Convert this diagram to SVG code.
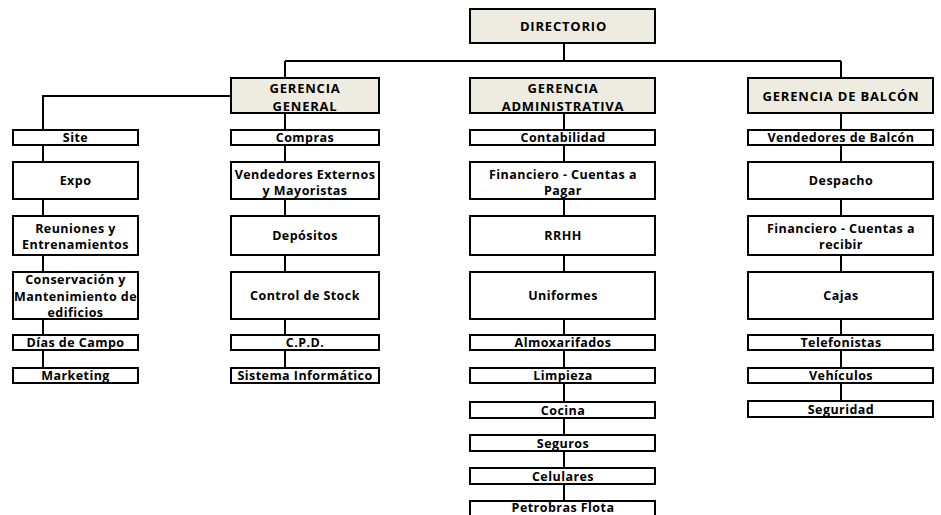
<svg xmlns="http://www.w3.org/2000/svg" width="941" height="515" viewBox="0 0 941 515">
<style>
.c{stroke:#000;stroke-width:2;fill:none}
.h rect{fill:#EEECE1;stroke:#000;stroke-width:2}
.n rect{fill:#fff;stroke:#000;stroke-width:2}
text{font-family:"Open Sans","Liberation Sans",Arial,sans-serif;font-weight:bold;font-size:12.5px;letter-spacing:0.45px;text-anchor:middle;fill:#000}
.h text{font-size:13px;letter-spacing:0.8px}
</style>
<rect width="941" height="515" fill="#fff"/>
<g id="connectors">
<path class="c" d="M564 43V61M285 61H841M285 61V78M841 61V78"/>
<path class="c" d="M231 96H43V368"/>
<path class="c" d="M285 113V368"/>
<path class="c" d="M564 113V501"/>
<path class="c" d="M841 113V401"/>
</g>
<g id="directorio" class="h"><rect x="470" y="9" width="185" height="34"/><text x="563.5" y="31">DIRECTORIO</text></g>
<g id="gerencia-general" class="h"><rect x="231" y="78" width="148" height="35"/><text x="305" y="92.5">GERENCIA</text><text x="305" y="110.5">GENERAL</text></g>
<g id="gerencia-administrativa" class="h"><rect x="470" y="78" width="185" height="35"/><text x="563" y="92.5">GERENCIA</text><text x="563" y="110.5">ADMINISTRATIVA</text></g>
<g id="gerencia-balcon" class="h"><rect x="748" y="78" width="185" height="35"/><text x="841" y="101">GERENCIA DE BALCÓN</text></g>

<g id="site" class="n"><rect x="13" y="130" width="125" height="15"/><text x="75.5" y="142">Site</text></g>
<g id="expo" class="n"><rect x="13" y="162" width="125" height="37"/><text x="75.5" y="185">Expo</text></g>
<g id="reuniones" class="n"><rect x="13" y="216" width="125" height="39"/><text x="75.5" y="233">Reuniones y</text><text x="75.5" y="249">Entrenamientos</text></g>
<g id="conservacion" class="n"><rect x="13" y="272" width="125" height="47"/><text x="75.5" y="284">Conservación y</text><text x="75.5" y="301">Mantenimiento de</text><text x="75.5" y="317">edificios</text></g>
<g id="dias-campo" class="n"><rect x="13" y="335" width="125" height="15"/><text x="75.5" y="347">Días de Campo</text></g>
<g id="marketing" class="n"><rect x="13" y="368" width="125" height="15"/><text x="75.5" y="380">Marketing</text></g>

<g id="compras" class="n"><rect x="231" y="130" width="148" height="15"/><text x="305" y="142">Compras</text></g>
<g id="vendedores-externos" class="n"><rect x="231" y="162" width="148" height="37"/><text x="305" y="179">Vendedores Externos</text><text x="305" y="195">y Mayoristas</text></g>
<g id="depositos" class="n"><rect x="231" y="216" width="148" height="39"/><text x="305" y="240">Depósitos</text></g>
<g id="control-stock" class="n"><rect x="231" y="272" width="148" height="47"/><text x="305" y="300">Control de Stock</text></g>
<g id="cpd" class="n"><rect x="231" y="335" width="148" height="15"/><text x="305" y="347">C.P.D.</text></g>
<g id="sistema" class="n"><rect x="231" y="368" width="148" height="15"/><text x="305" y="380">Sistema Informático</text></g>

<g id="contabilidad" class="n"><rect x="470" y="130" width="185" height="15"/><text x="563" y="142">Contabilidad</text></g>
<g id="financiero-pagar" class="n"><rect x="470" y="162" width="185" height="37"/><text x="563" y="179">Financiero - Cuentas a</text><text x="563" y="195">Pagar</text></g>
<g id="rrhh" class="n"><rect x="470" y="216" width="185" height="39"/><text x="563" y="240">RRHH</text></g>
<g id="uniformes" class="n"><rect x="470" y="272" width="185" height="47"/><text x="563" y="300">Uniformes</text></g>
<g id="almoxarifados" class="n"><rect x="470" y="335" width="185" height="15"/><text x="563" y="347">Almoxarifados</text></g>
<g id="limpieza" class="n"><rect x="470" y="368" width="185" height="15"/><text x="563" y="380">Limpieza</text></g>
<g id="cocina" class="n"><rect x="470" y="402" width="185" height="16"/><text x="563" y="414.5">Cocina</text></g>
<g id="seguros" class="n"><rect x="470" y="435" width="185" height="16"/><text x="563" y="447.5">Seguros</text></g>
<g id="celulares" class="n"><rect x="470" y="468" width="185" height="16"/><text x="563" y="480.5">Celulares</text></g>
<g id="petrobras" class="n"><rect x="470" y="501" width="185" height="17"/><text x="563" y="512">Petrobras Flota</text></g>

<g id="vendedores-balcon" class="n"><rect x="748" y="130" width="185" height="15"/><text x="841" y="142">Vendedores de Balcón</text></g>
<g id="despacho" class="n"><rect x="748" y="162" width="185" height="37"/><text x="841" y="185">Despacho</text></g>
<g id="financiero-recibir" class="n"><rect x="748" y="216" width="185" height="39"/><text x="841" y="233">Financiero - Cuentas a</text><text x="841" y="249">recibir</text></g>
<g id="cajas" class="n"><rect x="748" y="272" width="185" height="47"/><text x="841" y="300">Cajas</text></g>
<g id="telefonistas" class="n"><rect x="748" y="335" width="185" height="15"/><text x="841" y="347">Telefonistas</text></g>
<g id="vehiculos" class="n"><rect x="748" y="368" width="185" height="15"/><text x="841" y="380">Vehículos</text></g>
<g id="seguridad" class="n"><rect x="748" y="401" width="185" height="16"/><text x="841" y="413.5">Seguridad</text></g>
</svg>
